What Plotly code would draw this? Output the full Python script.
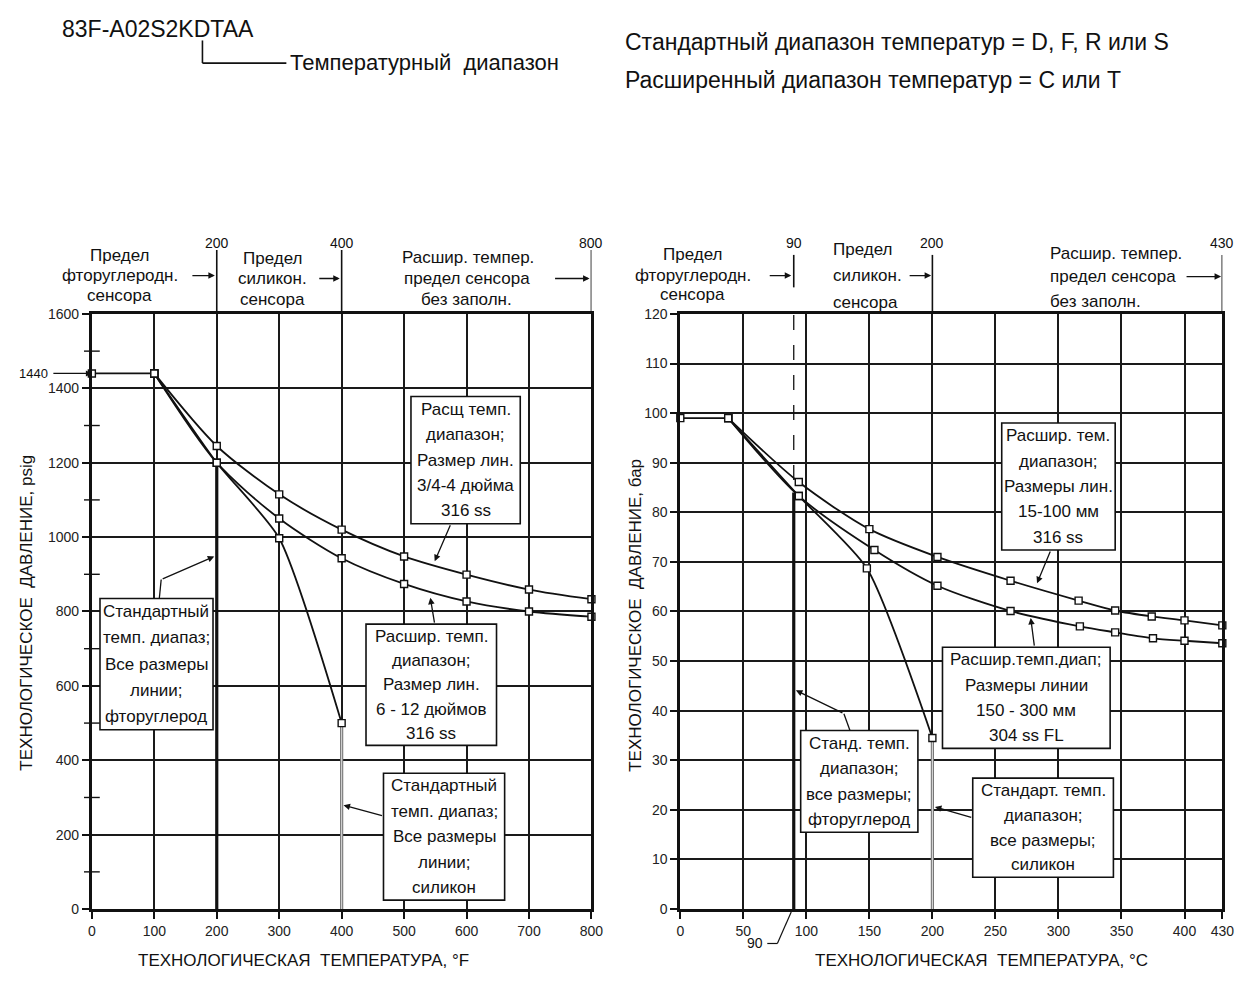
import plotly.graph_objects as go

FONT = "Liberation Sans, Arial, sans-serif"
W, H = 1259, 981

# ---------------- data: left chart (°F, psig) ----------------
f_plateau_x = [0, 100]
f_plateau_y = [1440, 1440]
f_ext_small_x = [100, 200, 300, 400, 500, 600, 700, 800]
f_ext_small_y = [1440, 1245, 1115, 1020, 948, 899, 859, 833]
f_ext_large_x = [100, 200, 300, 400, 500, 600, 700, 800]
f_ext_large_y = [1440, 1200, 1050, 943, 874, 827, 800, 786]
f_std_sil_x = [100, 200, 300, 400]
f_std_sil_y = [1440, 1200, 997, 500]
f_fluoro_drop_x = [200, 200]
f_fluoro_drop_y = [1200, 0]
f_sil_drop_x = [400, 400]
f_sil_drop_y = [500, 0]
f_xticks = [0, 100, 200, 300, 400, 500, 600, 700, 800]
f_yticks = [0, 200, 400, 600, 800, 1000, 1200, 1400, 1600]

# ---------------- data: right chart (°C, bar) ----------------
c_plateau_x = [0, 38]
c_plateau_y = [99, 99]
c_ext_small_x = [38, 94, 150, 204, 262, 316, 345, 374, 400, 430]
c_ext_small_y = [99, 86.1, 76.6, 71.0, 66.2, 62.2, 60.2, 59.0, 58.2, 57.2]
c_ext_large_x = [38, 94, 154, 204, 262, 317, 345, 375, 400, 430]
c_ext_large_y = [99, 83.3, 72.4, 65.2, 60.1, 57.0, 55.8, 54.6, 54.1, 53.6]
c_std_sil_x = [38, 94, 148, 200]
c_std_sil_y = [99, 83.3, 68.7, 34.5]
c_fluoro_drop_x = [90, 90]
c_fluoro_drop_y = [84, 0]
c_fluoro_dash_x = [90, 90]
c_fluoro_dash_y = [86.5, 120]
c_sil_drop_x = [200, 200]
c_sil_drop_y = [34.5, 0]
c_xticks = [0, 50, 100, 150, 200, 250, 300, 350, 400, 430]
c_yticks = list(range(0, 121, 10))

# ---------------- text ----------------
box_left_1 = ["Расщ темп.", "диапазон;", "Размер лин.", "3/4-4 дюйма", "316 ss"]
box_left_2 = ["Стандартный", "темп. диапаз;", "Все размеры", "линии;", "фторуглерод"]
box_left_3 = ["Расшир. темп.", "диапазон;", "Размер лин.", "6 - 12 дюймов", "316 ss"]
box_left_4 = ["Стандартный", "темп. диапаз;", "Все размеры", "линии;", "силикон"]
box_right_1 = ["Расшир. тем.", "диапазон;", "Размеры лин.", "15-100 мм", "316 ss"]
box_right_2 = ["Расшир.темп.диап;", "Размеры линии", "150 - 300 мм", "304 ss FL"]
box_right_3 = ["Станд. темп.", "диапазон;", "все размеры;", "фторуглерод"]
box_right_4 = ["Стандарт. темп.", "диапазон;", "все размеры;", "силикон"]


def PX(p):
    return p / W


def PY(p):
    return 1 - p / H


fig = go.Figure()

LEFT_DOM = [PX(89), PX(595)]
RIGHT_DOM = [PX(685), PX(1234)]
Y_DOM = [PY(916), PY(311)]


def line_trace(x, y, xa, ya, width=1.8, color="#111", dash=None, shape="linear", smoothing=1.0, markers=False):
    fig.add_trace(go.Scatter(
        x=x, y=y, xaxis=xa, yaxis=ya,
        mode="lines+markers" if markers else "lines",
        line=dict(color=color, width=width, dash=dash, shape=shape, smoothing=smoothing),
        marker=dict(symbol="square", size=7, color="white", line=dict(color="#111", width=1.4)),
        hoverinfo="skip", showlegend=False, cliponaxis=False,
    ))


# left chart lines
line_trace(f_fluoro_drop_x, f_fluoro_drop_y, "x", "y", width=3.2)
line_trace(f_sil_drop_x, f_sil_drop_y, "x", "y", width=3.2, color="#777")
line_trace(f_sil_drop_x, f_sil_drop_y, "x", "y", width=1.0, color="#ddd")
line_trace(f_plateau_x, f_plateau_y, "x", "y", markers=True)
line_trace(f_std_sil_x, f_std_sil_y, "x", "y", shape="spline", smoothing=0.6, markers=True)
line_trace(f_ext_large_x, f_ext_large_y, "x", "y", shape="spline", smoothing=0.8, markers=True)
line_trace(f_ext_small_x, f_ext_small_y, "x", "y", shape="spline", smoothing=0.8, markers=True)

# right chart lines
line_trace(c_fluoro_drop_x, c_fluoro_drop_y, "x2", "y2", width=3.2)
line_trace(c_fluoro_dash_x, c_fluoro_dash_y, "x2", "y2", width=1.3, dash="longdash")
line_trace(c_sil_drop_x, c_sil_drop_y, "x2", "y2", width=3.2, color="#777")
line_trace(c_sil_drop_x, c_sil_drop_y, "x2", "y2", width=1.0, color="#ddd")
line_trace(c_plateau_x, c_plateau_y, "x2", "y2", markers=True)
line_trace(c_std_sil_x, c_std_sil_y, "x2", "y2", shape="spline", smoothing=0.6, markers=True)
line_trace(c_ext_large_x, c_ext_large_y, "x2", "y2", shape="spline", smoothing=0.8, markers=True)
line_trace(c_ext_small_x, c_ext_small_y, "x2", "y2", shape="spline", smoothing=0.8, markers=True)

shapes = []
annotations = []


def text(t, x, y, xref="paper", yref="paper", size=17, xanchor="center", yanchor="middle", angle=0):
    annotations.append(dict(text=t, x=x, y=y, xref=xref, yref=yref, showarrow=False,
                            xanchor=xanchor, yanchor=yanchor, textangle=angle,
                            font=dict(family=FONT, size=size, color="#111")))


def arrow(x, y, ax, ay, xref, yref, axref="pixel", ayref="pixel", width=1.3):
    annotations.append(dict(text="", x=x, y=y, ax=ax, ay=ay, xref=xref, yref=yref,
                            axref=axref, ayref=ayref, showarrow=True, arrowhead=2,
                            arrowsize=1.0, arrowwidth=width, arrowcolor="#111", standoff=0))


def seg(x0, y0, x1, y1, xref, yref, width=1.4, dash=None):
    shapes.append(dict(type="line", x0=x0, y0=y0, x1=x1, y1=y1, xref=xref, yref=yref,
                       line=dict(color="#111", width=width, dash=dash), layer="above"))


def box(lines, x0, x1, y0, y1, xref, yref, size=17):
    shapes.append(dict(type="rect", x0=x0, x1=x1, y0=y0, y1=y1, xref=xref, yref=yref,
                       fillcolor="white", line=dict(color="#111", width=1.6), layer="above"))
    n = len(lines)
    for i, t in enumerate(lines):
        yc = y1 - (y1 - y0) * (i + 0.5) / n
        text(t, (x0 + x1) / 2, yc, xref=xref, yref=yref, size=size)


def leader(points, xref, yref):
    for (xa, ya), (xb, yb) in zip(points[:-2], points[1:-1]):
        seg(xa, ya, xb, yb, xref, yref, width=1.3)
    (xa, ya), (xb, yb) = points[-2], points[-1]
    arrow(xb, yb, xa, ya, xref, yref, axref=xref, ayref=yref)


# boxes left
box(box_left_1, 511, 686, 1036, 1378, "x", "y")
box(box_left_2, 13, 194, 482, 835, "x", "y")
box(box_left_3, 439, 648, 440, 766, "x", "y")
box(box_left_4, 467, 661, 24, 365, "x", "y")
leader([(575, 1036), (549, 935)], "x", "y")
leader([(108, 835), (111, 886), (196, 948)], "x", "y")
leader([(549, 766), (542, 837)], "x", "y")
leader([(467, 250), (403, 279)], "x", "y")

# boxes right
box(box_right_1, 255, 345, 72.4, 98, "x2", "y2")
box(box_right_2, 208, 341, 32.4, 52.8, "x2", "y2")
box(box_right_3, 95.5, 188.5, 15.5, 36, "x2", "y2")
box(box_right_4, 232, 343.6, 6.4, 26.4, "x2", "y2")
leader([(294, 72.4), (283, 65.7)], "x2", "y2")
leader([(281, 52.8), (278, 58.7)], "x2", "y2")
leader([(134.6, 36), (129.8, 39.4), (91.7, 44.1)], "x2", "y2")
leader([(232, 18.4), (202, 20.6)], "x2", "y2")

# minor crossing ticks on left y axis
for v in [100, 300, 500, 700, 900, 1100, 1300, 1500]:
    seg(PX(81), v, PX(97), v, "paper", "y", width=1.4)

# 1440 marker label
text("1440", PX(47), 1440, yref="y", size=13, xanchor="right")
arrow(0, 1440, -40, 0, "x", "y", width=1.2)

TS = 17  # top label font size
# top limit labels - left chart
for v in [200, 400, 800]:
    seg(v, PY(311), v, PY(246), "x", "paper", width=1.6)
    text(str(v), v, PY(239), xref="x", size=14)
text("Предел", 45, PY(252), xref="x", size=TS)
text("фторуглеродн.", 45, PY(272), xref="x", size=TS)
text("сенсора", 45, PY(292), xref="x", size=TS)
arrow(197, PY(272), -24, 0, "x", "paper")
text("Предел", 289, PY(255), xref="x", size=TS)
text("силикон.", 289, PY(275), xref="x", size=TS)
text("сенсора", 289, PY(296), xref="x", size=TS)
arrow(397, PY(275), -22, 0, "x", "paper")
text("Расшир. темпер.", 603, PY(254), xref="x", size=TS)
text("предел сенсора", 600, PY(275), xref="x", size=TS)
text("без заполн.", 600, PY(296), xref="x", size=TS)
arrow(797, PY(275), -36, 0, "x", "paper")

# top limit labels - right chart
seg(90, PY(284), 90, PY(251), "x2", "paper", width=1.6)
for v in [200, 430]:
    seg(v, PY(310), v, PY(251), "x2", "paper", width=1.6)
for v in [90, 200, 430]:
    text(str(v), v, PY(239), xref="x2", size=14)
text("Предел", 10, PY(251), xref="x2", size=TS)
text("фторуглеродн.", 10, PY(272), xref="x2", size=TS)
text("сенсора", 10, PY(291), xref="x2", size=TS)
arrow(88, PY(272), -23, 0, "x2", "paper")
text("Предел", 119.8, PY(246), xref="x2", size=TS, xanchor="left")
text("силикон.", 119.8, PY(272), xref="x2", size=TS, xanchor="left")
text("сенсора", 119.8, PY(299), xref="x2", size=TS, xanchor="left")
arrow(199, PY(272), -23, 0, "x2", "paper")
text("Расшир. темпер.", 292, PY(250), xref="x2", size=TS, xanchor="left")
text("предел сенсора", 292, PY(273), xref="x2", size=TS, xanchor="left")
text("без заполн.", 292, PY(298), xref="x2", size=TS, xanchor="left")
arrow(429, PY(273), -36, 0, "x2", "paper")

# bottom "90" marker
text("90", 59, PY(951), xref="x2", size=14)
seg(69, PY(951), 77, PY(951), "x2", "paper", width=1.2)
seg(77, PY(951), 88, PY(919), "x2", "paper", width=1.2)

# axis titles
text("ТЕХНОЛОГИЧЕСКАЯ  ТЕМПЕРАТУРА, °F", PX(303), PY(968), size=17)
text("ТЕХНОЛОГИЧЕСКАЯ  ТЕМПЕРАТУРА, °C", PX(990), PY(968), size=17)
text("ТЕХНОЛОГИЧЕСКОЕ  ДАВЛЕНИЕ, psig", PX(23), PY(615), size=17, angle=-90)
text("ТЕХНОЛОГИЧЕСКОЕ  ДАВЛЕНИЕ, бар", PX(640), PY(617), size=17, angle=-90)

# header
text("83F-A02S2KDTAA", PX(57), PY(21), size=23, xanchor="left")
seg(PX(201), PY(33), PX(201), PY(56), "paper", "paper", width=1.6)
seg(PX(201), PY(56), PX(286), PY(56), "paper", "paper", width=1.6)
text("Температурный  диапазон", PX(288), PY(55), size=22, xanchor="left")
text("Стандартный диапазон температур = D, F, R или S", PX(627), PY(35), size=23, xanchor="left")
text("Расширенный диапазон температур = C или T", PX(627), PY(73), size=23, xanchor="left")

axis_common = dict(showgrid=True, gridcolor="#1a1a1a", gridwidth=1.5, showline=True,
                   linecolor="#111", linewidth=3, mirror=True, ticks="outside",
                   ticklen=7, tickwidth=1.5, tickcolor="#111", zeroline=False,
                   tickfont=dict(family=FONT, size=14, color="#222"))

fig.update_layout(
    width=W, height=H, margin=dict(l=0, r=0, t=0, b=0),
    paper_bgcolor="white", plot_bgcolor="white", showlegend=False,
    xaxis=dict(domain=LEFT_DOM, range=[0, 800], tickvals=f_xticks, anchor="y", **axis_common),
    yaxis=dict(domain=Y_DOM, range=[0, 1600], tickvals=f_yticks, anchor="x", **axis_common),
    xaxis2=dict(domain=RIGHT_DOM, range=[0, 430], tickvals=c_xticks, anchor="y2", **axis_common),
    yaxis2=dict(domain=Y_DOM, range=[0, 120], tickvals=c_yticks, anchor="x2", **axis_common),
    shapes=shapes, annotations=annotations,
)

fig.write_html("out.html")
